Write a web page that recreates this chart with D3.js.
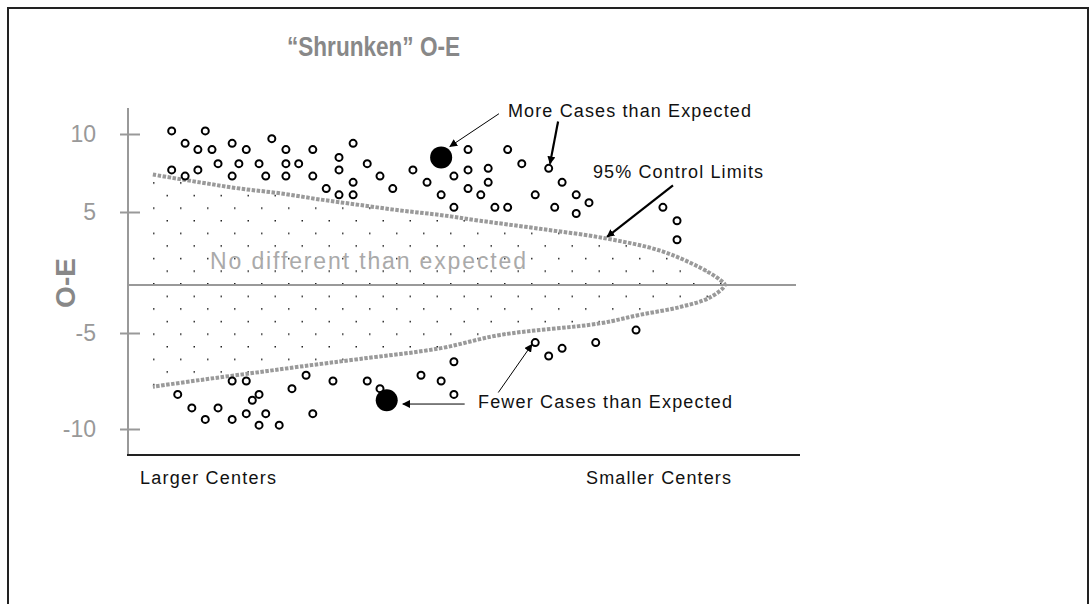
<!doctype html>
<html lang="en">
<head>
  <meta charset="utf-8">
  <title>Shrunken O-E</title>
  <script src="https://cdn.jsdelivr.net/npm/d3@7"></script>
  <style>
    body { margin: 0; background: #fff; }
    svg text { font-family: Arial, "Liberation Sans", sans-serif; }
  </style>
</head>
<body>
<div id="container"></div>
<script>
  // x = center rank (0 = largest centers, 100 = smallest), y = shrunken O-E
  const aboveX = [6.5, 11.5, 8.5, 10.4, 12.5, 15.5, 17.6, 21.4, 23.5, 27.5, 33.5,
    13.4, 16.5, 19.5, 23.5, 25.4, 31.4, 31.4, 35.6,
    6.5, 8.5, 10.4, 15.5, 20.5, 23.5, 27.5, 33.5, 29.5, 31.4, 33.5, 37.5, 39.4, 42.4, 44.5, 48.5, 46.6, 48.5,
    50.6, 50.6, 50.6, 56.5, 58.6, 62.6, 64.6, 66.7, 68.6, 63.5, 66.7, 60.6, 54.6, 56.5, 52.5, 53.6, 53.6,
    79.6, 81.7, 81.7];
  const aboveY = [10.2, 10.2, 9.4, 9.0, 9.0, 9.4, 9.0, 9.7, 9.0, 9.0, 9.4,
    8.1, 8.1, 8.1, 8.1, 8.1, 8.5, 7.7, 8.1,
    7.7, 7.3, 7.7, 7.3, 7.3, 7.3, 7.3, 6.9, 6.5, 6.1, 6.1, 7.3, 6.5, 7.7, 6.9, 7.3, 6.1, 5.3,
    9.0, 7.7, 6.5, 9.0, 8.1, 7.8, 6.9, 6.1, 5.6, 5.3, 4.9, 6.1, 5.3, 5.3, 6.1, 6.9, 7.8,
    5.3, 4.4, 3.1];

  const belowX = [7.4, 9.5, 11.5, 13.4, 15.5, 15.5, 17.6, 19.5, 18.5, 17.6, 20.5, 19.5, 22.5,
    24.4, 26.5, 27.5, 30.5, 35.6, 37.5, 43.6, 46.6, 48.5, 48.5, 60.6, 62.6, 64.6, 69.6, 75.6];
  const belowY = [-8.2, -8.9, -9.5, -8.9, -9.5, -7.5, -7.5, -8.2, -8.5, -9.2, -9.2, -9.8, -9.8,
    -7.9, -7.2, -9.2, -7.5, -7.5, -7.9, -7.2, -7.5, -6.5, -8.2, -5.5, -6.2, -5.8, -5.5, -4.7];

  // the two highlighted centers
  const flaggedX = [46.6, 38.5];
  const flaggedY = [8.5, -8.5];

  // 95% control limits
  const upperLimitX = [3.7, 10.7, 16.7, 22.6, 28.6, 34.5, 40.5, 46.4, 52.4, 61.3, 71.0, 79.2, 85.1, 88.1, 88.8];
  const upperLimitY = [7.4, 6.9, 6.5, 6.2, 5.8, 5.45, 5.1, 4.8, 4.4, 3.85, 3.2, 2.35, 1.2, 0.35, 0];
  const lowerLimitX = [3.7, 10.7, 18.2, 25.6, 34.5, 46.4, 55.4, 70.2, 76.2, 82.1, 86.6, 88.8];
  const lowerLimitY = [-7.8, -7.45, -7.1, -6.75, -6.35, -5.8, -5.1, -4.0, -3.1, -2.3, -1.3, 0];

  const yTicks = [-10, -5, 5, 10];
  const xLabels = ['Larger Centers', 'Smaller Centers'];

  // annotation arrows [x, y] from -> to, and line weight
  const arrowFrom = [[55.2, 11.3], [64.0, 10.8], [81.1, 6.7], [55.1, -8.1], [50.1, -8.7]];
  const arrowTo = [[47.9, 9.2], [62.8, 8.1], [71.3, 3.3], [60.1, -5.6], [40.9, -8.7]];
  const arrowWidth = [1, 2.2, 2.2, 1, 1];

  const width = 1091, height = 604;
  const plotTop = 108, plotBottom = 455;

  const svg = d3.select('#container')
    .append('svg')
    .attr('width', width)
    .attr('height', height);

  // outer frame
  svg.append('rect')
    .attr('x', 8).attr('y', 8)
    .attr('width', 1080).attr('height', 640)
    .attr('fill', 'none')
    .attr('stroke', '#222')
    .attr('stroke-width', 2);

  const x = d3.scaleLinear().domain([0, 100]).range([128, 800]);
  // the original axis is not evenly spaced
  const y = d3.scaleLinear().domain([-10, -5, 0, 5, 10]).range([429, 333, 285, 212, 134]);

  const defs = svg.append('defs');
  const pat = defs.append('pattern')
    .attr('id', 'dots')
    .attr('patternUnits', 'userSpaceOnUse')
    .attr('width', 27).attr('height', 25.2)
    .attr('x', 126).attr('y', 283);
  pat.append('rect').attr('x', 0).attr('y', 0).attr('width', 1.5).attr('height', 1.5).attr('fill', '#222');
  pat.append('rect').attr('x', 13.5).attr('y', 12.6).attr('width', 1.5).attr('height', 1.5).attr('fill', '#222');

  defs.append('marker')
    .attr('id', 'arrow')
    .attr('viewBox', '0 0 10 10')
    .attr('refX', 9).attr('refY', 5)
    .attr('markerWidth', 8).attr('markerHeight', 8)
    .attr('markerUnits', 'userSpaceOnUse')
    .attr('orient', 'auto')
    .append('path')
    .attr('d', 'M0,0L10,5L0,10z')
    .attr('fill', '#000');

  // control limit shape: upper edge out to the apex, back along the lower edge
  const limitPts = upperLimitX.map((d, i) => [d, upperLimitY[i]])
    .concat(lowerLimitX.map((d, i) => [d, lowerLimitY[i]]).reverse().slice(1));

  const limitLine = d3.line()
    .x(d => x(d[0]))
    .y(d => y(d[1]))
    .curve(d3.curveCatmullRom.alpha(0.5));

  svg.append('path')
    .attr('d', limitLine(limitPts) + 'Z')
    .attr('fill', 'url(#dots)');

  // zero line
  svg.append('line')
    .attr('x1', x(0)).attr('x2', 796)
    .attr('y1', y(0)).attr('y2', y(0))
    .attr('stroke', '#999')
    .attr('stroke-width', 2);

  svg.append('path')
    .attr('d', limitLine(limitPts))
    .attr('fill', 'none')
    .attr('stroke', '#9a9a9a')
    .attr('stroke-width', 4)
    .attr('stroke-dasharray', '3.5,1.5');

  // y axis
  const yAxis = svg.append('g')
    .attr('transform', `translate(${x(0)},0)`)
    .call(d3.axisLeft(y).tickValues(yTicks).tickFormat(d => String(d))
      .tickSizeInner(8).tickSizeOuter(0).tickPadding(24));
  yAxis.select('.domain').remove();
  yAxis.selectAll('.tick line')
    .attr('x1', -8).attr('x2', 12)
    .attr('stroke', '#999').attr('stroke-width', 2);
  yAxis.selectAll('.tick text')
    .attr('fill', '#999')
    .style('font-size', '23px')
    .style('font-family', 'Arial, "Liberation Sans", sans-serif');
  yAxis.append('line')
    .attr('y1', plotTop).attr('y2', plotBottom)
    .attr('stroke', '#999').attr('stroke-width', 2);

  // x axis baseline
  svg.append('line')
    .attr('x1', x(0) - 1).attr('x2', x(100))
    .attr('y1', plotBottom).attr('y2', plotBottom)
    .attr('stroke', '#222').attr('stroke-width', 2);

  svg.selectAll('.xlab')
    .data(xLabels)
    .enter()
    .append('text')
    .attr('class', 'xlab')
    .attr('x', (d, i) => i === 0 ? 140 : 586)
    .attr('y', 484)
    .attr('textLength', (d, i) => i === 0 ? 136 : 145)
    .attr('lengthAdjust', 'spacing')
    .style('font-size', '18px')
    .attr('fill', '#111')
    .text(d => d);

  // centers
  const pts = aboveX.map((d, i) => [d, aboveY[i]])
    .concat(belowX.map((d, i) => [d, belowY[i]]));
  svg.append('g')
    .selectAll('circle')
    .data(pts)
    .enter()
    .append('circle')
    .attr('cx', d => x(d[0]))
    .attr('cy', d => y(d[1]))
    .attr('r', 3.5)
    .attr('fill', '#fff')
    .attr('stroke', '#000')
    .attr('stroke-width', 2);

  svg.append('g')
    .selectAll('circle')
    .data(flaggedX)
    .enter()
    .append('circle')
    .attr('cx', d => x(d))
    .attr('cy', (d, i) => y(flaggedY[i]))
    .attr('r', 11)
    .attr('fill', '#000');

  // arrows
  svg.append('g')
    .selectAll('line')
    .data(arrowFrom)
    .enter()
    .append('line')
    .attr('x1', d => x(d[0]))
    .attr('y1', d => y(d[1]))
    .attr('x2', (d, i) => x(arrowTo[i][0]))
    .attr('y2', (d, i) => y(arrowTo[i][1]))
    .attr('stroke', '#000')
    .attr('stroke-width', (d, i) => arrowWidth[i])
    .attr('marker-end', 'url(#arrow)');

  // labels
  const note = (txt, px, py, len, size, color) => svg.append('text')
    .attr('x', px).attr('y', py)
    .attr('textLength', len)
    .attr('lengthAdjust', 'spacing')
    .style('font-size', size + 'px')
    .attr('fill', color)
    .text(txt);

  note('More Cases than Expected', 508, 117, 243, 18, '#111');
  note('95% Control Limits', 593, 178, 170, 18, '#111');
  note('Fewer Cases than Expected', 478, 408, 254, 18, '#111');
  note('No different than expected', 210, 269, 316, 23, '#aaa');

  svg.append('text')
    .attr('x', 287).attr('y', 56)
    .attr('textLength', 173)
    .attr('lengthAdjust', 'spacingAndGlyphs')
    .style('font-size', '28px')
    .style('font-weight', 'bold')
    .attr('fill', '#888')
    .text('\u201cShrunken\u201d O-E');

  svg.append('text')
    .attr('transform', 'translate(75,283) rotate(-90)')
    .attr('text-anchor', 'middle')
    .style('font-size', '28px')
    .style('font-weight', 'bold')
    .attr('fill', '#888')
    .text('O-E');
</script>
</body>
</html>
